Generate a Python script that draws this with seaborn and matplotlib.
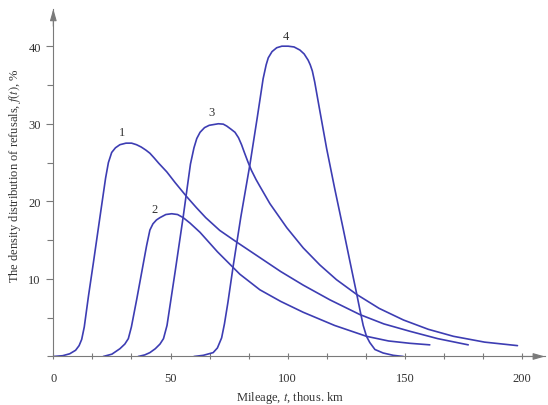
import numpy as np
import pandas as pd
import matplotlib
matplotlib.use("Agg")
import matplotlib.pyplot as plt
from matplotlib.ticker import MultipleLocator
import seaborn as sns

# -----------------------------
# DATA
# -----------------------------
t1 = [0, 4, 7, 9.5, 11, 12.1, 13.2, 15, 17.1, 20, 22.3, 23.5, 24.9, 26.5, 28.4,
      31, 33.4, 35.5, 37.5, 39.5, 41.2, 43, 45, 48.4, 52, 56.9, 61, 65, 71,
      78.2, 88.1, 97, 106.6, 118, 130.8, 141, 152.1, 164, 177]
f1 = [0, 0.1, 0.35, 0.8, 1.4, 2.2, 3.8, 7.8, 12.1, 18.2, 23.0, 25.0, 26.3, 26.9,
      27.3, 27.5, 27.5, 27.3, 27.0, 26.6, 26.2, 25.6, 24.9, 23.8, 22.4, 20.6,
      19.2, 17.9, 16.25, 14.75, 12.75, 10.95, 9.2, 7.3, 5.4, 4.2, 3.25, 2.3, 1.5]

t2 = [21.3, 25, 28.4, 30.5, 32, 33.3, 35.6, 39.8, 41.2, 42.5, 44, 45.5, 48, 50.5,
      53, 55.4, 58.3, 62.6, 70, 79.6, 88.1, 97, 106.6, 120, 133.6, 143, 152.1,
      160.6]
f2 = [0, 0.3, 1.0, 1.6, 2.3, 3.8, 7.4, 14.3, 16.3, 17.1, 17.6, 17.9, 18.3, 18.4,
      18.3, 17.9, 17.2, 16.0, 13.5, 10.6, 8.6, 7.1, 5.7, 4.0, 2.6, 2.0, 1.7, 1.5]

t3 = [36.2, 39, 41.2, 43.5, 45.5, 47, 48.5, 52, 55.4, 58.5, 60, 61.2, 62.6, 64.5,
      66.5, 70.4, 72.5, 74, 75.8, 77.5, 79, 80.3, 81.5, 83, 84.5, 86.5, 88,
      92.4, 99.6, 106.6, 113.7, 120.8, 129.4, 139, 149.4, 160, 170.7, 184, 198]
f3 = [0, 0.2, 0.5, 1.0, 1.6, 2.3, 4.0, 11.0, 18.0, 24.8, 26.9, 28.1, 28.9, 29.5,
      29.8, 30.0, 29.95, 29.7, 29.3, 28.9, 28.2, 27.3, 26.3, 25.1, 24.0, 22.8,
      22.0, 19.7, 16.6, 14.0, 11.8, 9.9, 8.0, 6.2, 4.7, 3.5, 2.6, 1.85, 1.4]

t4 = [60, 64, 68.2, 70, 71.8, 73, 74.5, 76.8, 80, 83.9, 87, 89.5, 90.8, 91.7,
      93.3, 95.3, 97.5, 100.2, 102.7, 105.2, 107, 108.7, 109.6, 110.5, 111.5,
      112.5, 113.5, 116.6, 120, 123.7, 126.5, 129.4, 130.8, 132.2, 133.6, 135,
      137.2, 140.7, 145, 149.3]
f4 = [0, 0.15, 0.5, 1.1, 2.4, 4.2, 7.0, 11.8, 18.0, 24.8, 30.8, 35.8, 37.6, 38.5,
      39.3, 39.8, 40.0, 40.0, 39.9, 39.5, 39.0, 38.2, 37.6, 36.8, 35.4, 33.7,
      32.0, 26.8, 21.7, 16.4, 12.3, 8.1, 6.0, 4.0, 2.6, 1.8, 0.9, 0.45, 0.15, 0]

curve_names = ["1", "2", "3", "4"]
label_t = [29.3, 43.4, 67.3, 99.3]
label_f = [28.9, 19.0, 31.5, 41.3]

x_ticks = [0, 50, 100, 150, 200]
y_ticks = [10, 20, 30, 40]

# -----------------------------
# LONG FORM TABLE
# -----------------------------
frames = []
for name, t, f in zip(curve_names, [t1, t2, t3, t4], [f1, f2, f3, f4]):
    frames.append(pd.DataFrame({"t": t, "f": f, "curve": name}))
df = pd.concat(frames, ignore_index=True)

# -----------------------------
# STYLE
# -----------------------------
sns.set_style("ticks")
plt.rcParams["font.family"] = ["Liberation Serif", "DejaVu Serif"]
plt.rcParams["mathtext.fontset"] = "stix"

line_color = "#3d3db3"
axis_color = "#7a7a7a"
text_color = "#333333"

fig = plt.figure(figsize=(5.48, 4.06), dpi=100)
ax = fig.add_axes([0.0973, 0.1195, 0.897, 0.856])

sns.lineplot(data=df, x="t", y="f", hue="curve",
             palette=[line_color] * 4, linewidth=1.2,
             legend=False, ax=ax)

for name, xt, yt in zip(curve_names, label_t, label_f):
    ax.text(xt, yt, name, fontsize=9, color=text_color,
            ha="center", va="center")

ax.set_xlim(0, 209.7)
ax.set_ylim(0, 44.8)

# -----------------------------
# AXES, TICKS, ARROWS
# -----------------------------
sns.despine(ax=ax)
for side in ["left", "bottom"]:
    ax.spines[side].set_color(axis_color)
    ax.spines[side].set_linewidth(0.8)

ax.set_xticks(x_ticks)
ax.set_yticks(y_ticks)
ax.xaxis.set_minor_locator(MultipleLocator(50 / 3))
ax.yaxis.set_minor_locator(MultipleLocator(5))
ax.tick_params(axis="x", which="both", direction="inout", length=4,
               width=0.8, color=axis_color, labelsize=9,
               labelcolor=text_color, pad=9)
ax.tick_params(axis="y", which="major", direction="out", length=5,
               width=0.8, color=axis_color, labelsize=9,
               labelcolor=text_color, pad=4)
ax.tick_params(axis="y", which="minor", direction="out", length=4,
               width=0.8, color=axis_color)

arrow = dict(arrowstyle="-|>,head_length=0.7,head_width=0.2",
             color=axis_color, lw=0.8, shrinkA=0, shrinkB=0,
             mutation_scale=10)
ax.annotate("", xy=(0, 1.0), xytext=(0, 0.95), xycoords="axes fraction",
            arrowprops=arrow, annotation_clip=False)
ax.annotate("", xy=(1.0, 0), xytext=(0.95, 0), xycoords="axes fraction",
            arrowprops=arrow, annotation_clip=False)

ax.set_xlabel("Mileage, $t$, thous. km", fontsize=9, color=text_color)
ax.set_ylabel("The density distribution of refusals, $f(t)$, %",
              fontsize=9, color=text_color)
ax.xaxis.set_label_coords(0.482, -0.093)
ax.yaxis.set_label_coords(-0.062, 0.524)

fig.savefig("out.png", dpi=100)
